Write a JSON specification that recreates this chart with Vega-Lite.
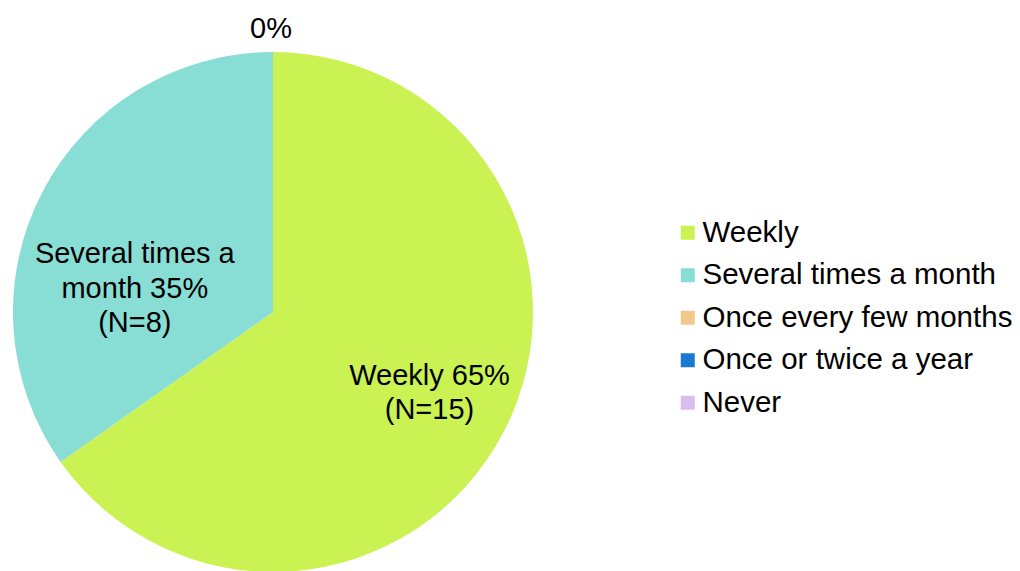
{
  "$schema": "https://vega.github.io/schema/vega-lite/v6.json",
  "width": 1020,
  "height": 571,
  "autosize": "none",
  "padding": 0,
  "background": "white",
  "config": {"view": {"stroke": null}, "font": "Liberation Sans"},
  "data": {
    "values": [
      {"category": "Weekly", "count": 15, "label": "Weekly 65%\n(N=15)"},
      {"category": "Several times a month", "count": 8, "label": "Several times a\nmonth 35%\n(N=8)"},
      {"category": "Once every few months", "count": 0, "label": "0%"},
      {"category": "Once or twice a year", "count": 0, "label": "0%"},
      {"category": "Never", "count": 0, "label": "0%"}
    ]
  },
  "transform": [
    {"calculate": "indexof(['Weekly','Several times a month','Once every few months','Once or twice a year','Never'], datum.category)", "as": "order"}
  ],
  "encoding": {
    "theta": {"field": "count", "type": "quantitative", "stack": true},
    "order": {"field": "order", "type": "quantitative"},
    "color": {
      "field": "category",
      "type": "nominal",
      "sort": null,
      "scale": {
        "domain": ["Weekly", "Several times a month", "Once every few months", "Once or twice a year", "Never"],
        "range": ["#c9f252", "#88ddd5", "#f0c98a", "#1a78d0", "#d9bdf0"]
      },
      "legend": {
        "title": null,
        "orient": "none",
        "legendX": 673,
        "legendY": 218,
        "symbolType": "square",
        "symbolSize": 196,
        "symbolStrokeWidth": 0,
        "labelFontSize": 29.5,
        "labelFont": "Liberation Sans",
        "labelColor": "#000000",
        "labelOffset": 0,
        "rowPadding": 11.5,
        "labelLimit": 400
      }
    }
  },
  "layer": [
    {
      "mark": {"type": "arc", "x": 273, "y": 312, "outerRadius": 260, "stroke": null}
    },
    {
      "mark": {"type": "text", "x": 273, "y": 312, "radius": 174, "fontSize": 29, "lineBreak": "\n", "lineHeight": 34, "align": "center", "baseline": "middle", "dx": 2, "dy": -16},
      "encoding": {
        "text": {"condition": {"test": "datum.category == 'Weekly'", "field": "label"}, "value": ""},
        "color": {"value": "#000000"}
      }
    },
    {
      "mark": {"type": "text", "x": 273, "y": 312, "radius": 141, "fontSize": 29, "lineBreak": "\n", "lineHeight": 34.5, "align": "center", "baseline": "middle", "dx": -13, "dy": 7},
      "encoding": {
        "text": {"condition": {"test": "datum.category == 'Several times a month'", "field": "label"}, "value": ""},
        "color": {"value": "#000000"}
      }
    },
    {
      "mark": {"type": "text", "x": 273, "y": 312, "radius": 285, "fontSize": 29, "align": "center", "baseline": "middle", "dx": -2, "dy": 2},
      "encoding": {
        "text": {"condition": {"test": "datum.category == 'Once every few months'", "field": "label"}, "value": ""},
        "color": {"value": "#000000"}
      }
    }
  ]
}
